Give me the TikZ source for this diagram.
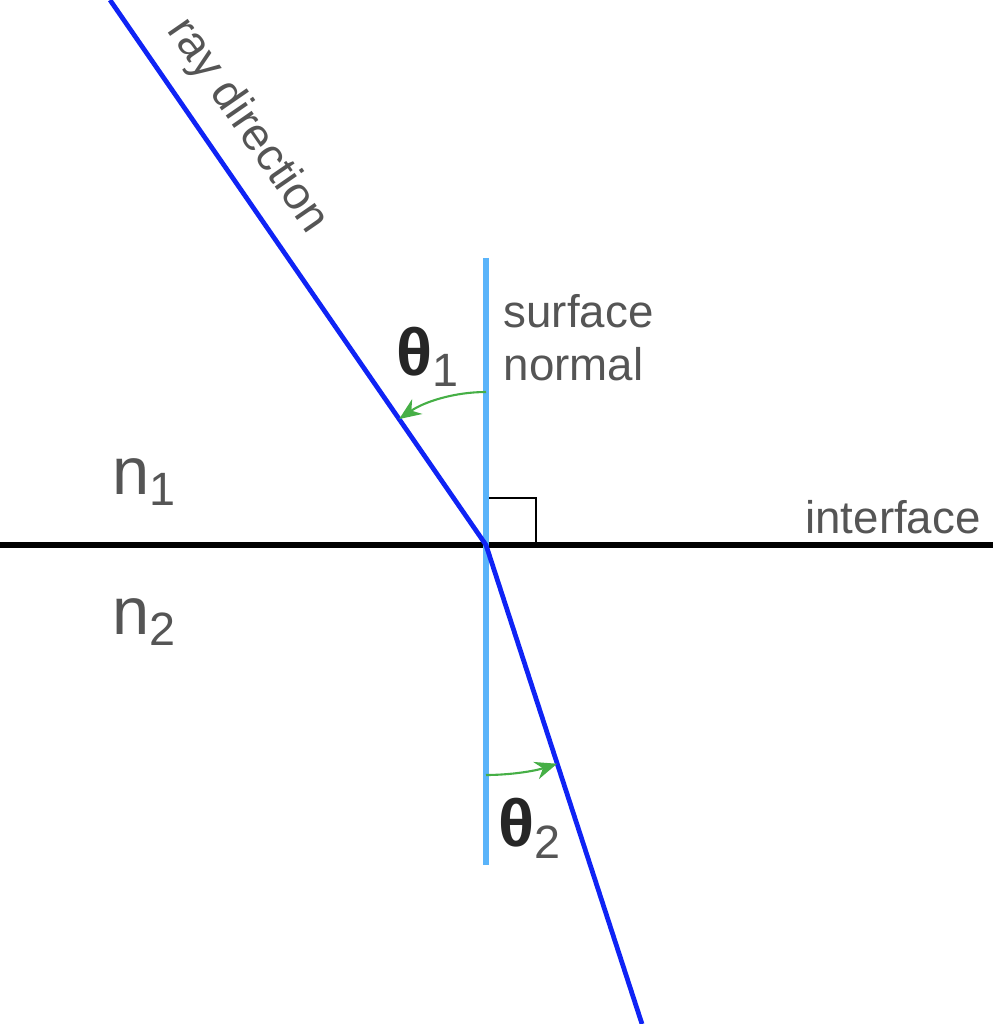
\documentclass[tikz,border=0pt]{standalone}
\usepackage{fontspec}
\setmainfont{Liberation Sans}
\usepackage{tikz}
\usetikzlibrary{arrows.meta}
\usetikzlibrary{positioning,calc}
\definecolor{raysblue}{RGB}{15,35,245}
\definecolor{normalblue}{RGB}{90,180,250}
\definecolor{arcgreen}{RGB}{70,175,70}
\definecolor{labelgray}{RGB}{85,85,85}

\begin{document}
\begin{tikzpicture}[
    lbl/.style={font=\fontsize{13}{15}\selectfont,text=labelgray,inner sep=0pt},
    medium/.style={font=\fontsize{19}{21}\selectfont,text=labelgray,inner sep=0pt},
    anglelbl/.style={font=\fontsize{19}{21}\selectfont\bfseries,text=black!85,inner sep=0pt},
    anglearc/.style={arcgreen,line width=0.6pt,-{Stealth[length=2.2mm,width=1.8mm]}}]
    \useasboundingbox (0,0) rectangle (9.93,10.24);
    % points
    \coordinate (O) at (4.86,4.79);
    \coordinate (raytop) at (1.10,10.24);
    \coordinate (raybot) at (6.42,0.0);
    \coordinate (normtop) at (4.86,7.66);
    \coordinate (normbot) at (4.86,1.59);
    \coordinate (ifleft) at (0,4.79);
    \coordinate (ifright) at (9.93,4.79);
    % interface and normal
    \draw[line width=1.5pt,black] (ifleft) -- (ifright);
    \draw[line width=0.5pt,black] (O) ++(0,0.47) -- ++(0.5,0) -- ++(0,-0.47);
    \draw[line width=1.8pt,normalblue] (normtop) -- (normbot);
    % the ray
    \draw[line width=1.35pt,raysblue] (raytop) -- (O) -- (raybot);
    % angles
    \draw[anglearc] (O) ++(90:1.53) arc[start angle=90,end angle=124.6,radius=1.53];
    \draw[anglearc] (O) ++(270:2.30) arc[start angle=270,end angle=288,radius=2.30];
    % labels
    \node[anglelbl] (th1) at (4.28,6.67) {θ\textsubscript{\mdseries\color{labelgray}1}};
    \node[anglelbl] (th2) at (5.30,1.96) {θ\textsubscript{\mdseries\color{labelgray}2}};
    \node[medium] (n1) at (1.45,5.42) {n\textsubscript{1}};
    \node[medium] (n2) at (1.45,4.02) {n\textsubscript{2}};
    \node[lbl,anchor=west,align=left] (normlbl) at (5.03,6.86) {surface\\normal};
    \node[lbl] (iflbl) at (8.93,5.07) {interface};
    \node[lbl,rotate=-55.4] (raylbl) at (2.47,8.98) {ray direction};
\end{tikzpicture}
\end{document}
